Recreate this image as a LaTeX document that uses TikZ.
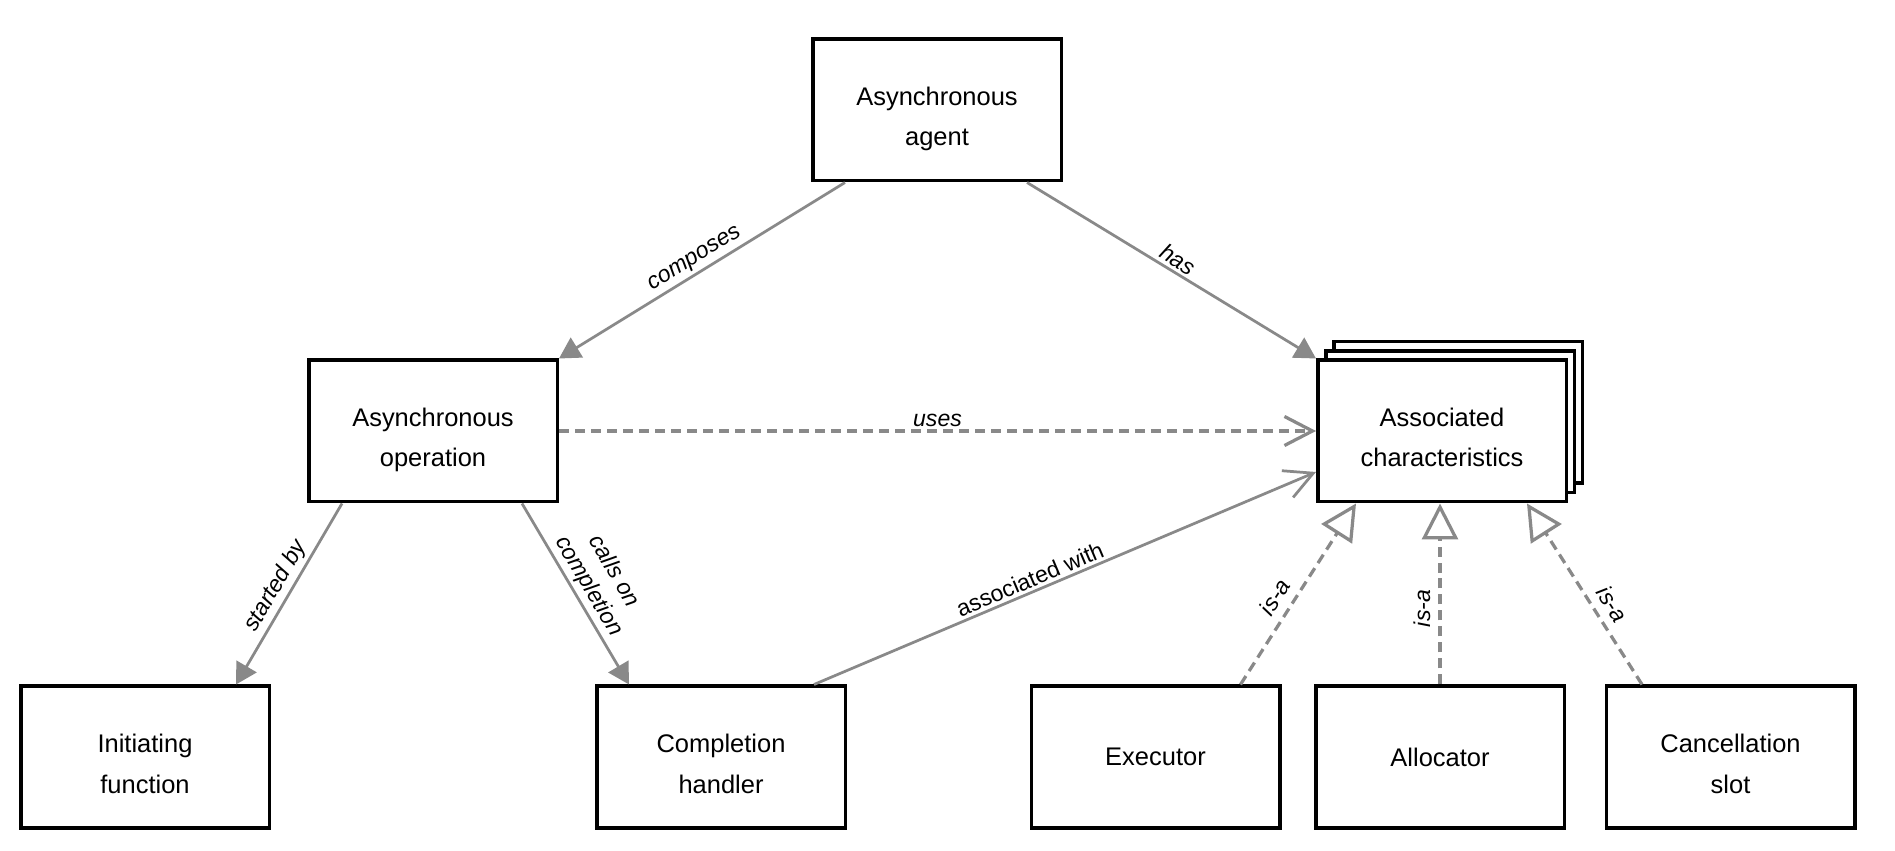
\documentclass[tikz,border=0pt]{standalone}
\usepackage{fontspec}
\setmainfont{Liberation Sans}
\usetikzlibrary{arrows.meta, shadows}

\definecolor{linkgray}{RGB}{137,137,137}

\tikzset{
  box/.style={draw=black, line width=0.07cm, fill=white, minimum width=4.97cm,
    minimum height=2.83cm, align=center, inner sep=0pt,
    font=\fontsize{14.5}{23.3}\selectfont},
  % two lines of text sit a little below the middle
  box2/.style={box, execute at begin node={\rule{0pt}{1.55cm}},
    execute at end node={\rule[-0.11cm]{0pt}{0pt}}},
  link/.style={draw=linkgray, line width=0.055cm},
  dashlink/.style={link, line width=0.065cm, dash pattern=on 0.2cm off 0.12cm},
  solidarrow/.style={link, -{Triangle[length=0.42cm, width=0.46cm]}},
  openarrow/.style={link, -{Straight Barb[length=0.56cm, width=0.58cm]}},
  isa/.style={dashlink, -{Triangle[open, length=0.72cm, width=0.72cm]}},
  lbl/.style={font=\fontsize{13.1}{16.5}\selectfont\itshape, sloped,
    inner sep=0.06cm, text=black},
}

\begin{document}
\begin{tikzpicture}
            \useasboundingbox (0,0) rectangle (37.9,17);

            \node[box2] (agent) at (18.74, 14.80) {Asynchronous\\agent};
            \node[box2] (op) at (8.66, 8.38) {Asynchronous\\operation};
            \node[box2,
              copy shadow={shadow xshift=0.32cm, shadow yshift=0.37cm, draw=black, line width=0.07cm},
              copy shadow={shadow xshift=0.16cm, shadow yshift=0.18cm, draw=black, line width=0.07cm}]
              (assoc) at (28.84, 8.38) {Associated\\characteristics};

            \node[box2] (init) at (2.90, 1.86) {Initiating\\function};
            \node[box2] (handler) at (14.42, 1.86) {Completion\\handler};
            \node[box] (exec) at (23.11, 1.86) {Executor};
            \node[box] (alloc) at (28.80, 1.86) {Allocator};
            \node[box2] (slot) at (34.61, 1.86) {Cancellation\\slot};

            \draw[solidarrow] ([xshift=-1.84cm]agent.south) -- (op.north east)
              node[lbl, above, pos=0.5] {composes}; % agent-op
            \draw[solidarrow] ([xshift=1.80cm]agent.south) -- (assoc.north west)
              node[lbl, above, pos=0.5] {has}; % agent-assoc
            \draw[openarrow, dashlink] (op.east) -- (assoc.west)
              node[lbl, above, pos=0.5] {uses}; % op-assoc
            \draw[solidarrow] ([xshift=-1.82cm]op.south) -- ([xshift=1.82cm]init.north)
              node[lbl, above, pos=0.5] {started by}; % op-init
            \draw[solidarrow] ([xshift=1.78cm]op.south) -- ([xshift=-1.84cm]handler.north)
              node[lbl, above, pos=0.5, align=center] {calls on\\completion}; % op-handler
            \draw[openarrow] ([xshift=1.86cm]handler.north) -- ([yshift=-0.82cm]assoc.west)
              node[lbl, above, pos=0.44, font=\fontsize{13.1}{16.5}\selectfont] {associated with}; % handler-assoc

            \draw[isa] ([xshift=1.70cm]exec.north) -- ([xshift=-1.72cm]assoc.south)
              node[lbl, above=0.1cm, pos=0.43] {is-a}; % exec-assoc
            \draw[isa] (alloc.north) -- (alloc.north |- assoc.south)
              node[lbl, above=0.1cm, pos=0.42] {is-a}; % alloc-assoc
            \draw[isa] ([xshift=-1.77cm]slot.north) -- ([xshift=1.70cm]assoc.south)
              node[lbl, above=0.1cm, pos=0.39] {is-a}; % slot-assoc
        \end{tikzpicture}
\end{document}
